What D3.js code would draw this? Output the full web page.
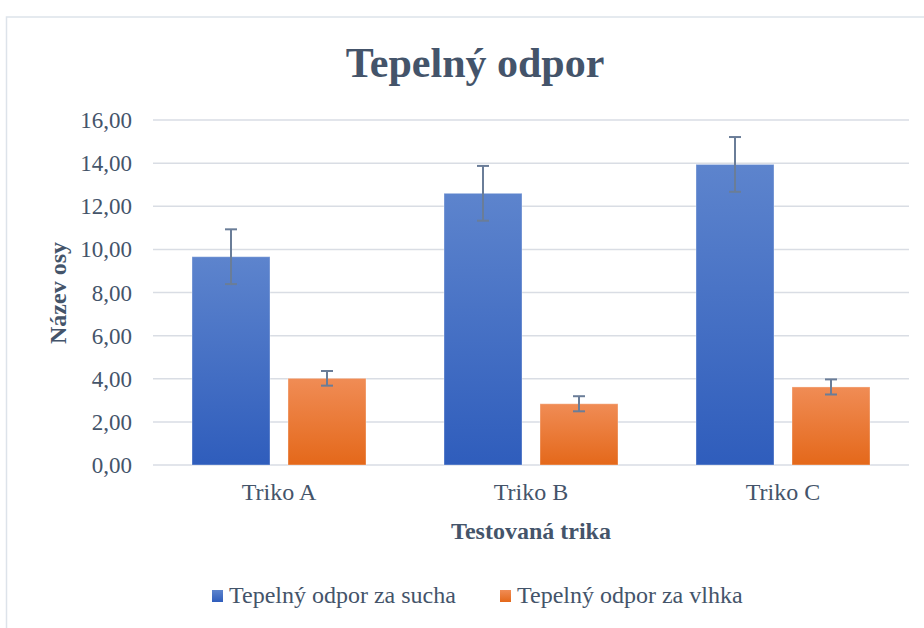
<!DOCTYPE html>
<html>
<head>
<meta charset="utf-8">
<script src="https://cdn.jsdelivr.net/npm/d3@7"></script>
<style>
  body { margin: 0; background: #fff; }
  svg { font-family: "Liberation Serif", "Times New Roman", serif; }
</style>
</head>
<body>
<svg></svg>
<script>
const size = {w: 924, h: 628};
const margin = {t: 120, r: 15, b: 163, l: 153};

// data
const categories = ['Triko A', 'Triko B', 'Triko C'];
const seriesNames = ['Tepelný odpor za sucha', 'Tepelný odpor za vlhka'];
const dryValues = [9.66, 12.60, 13.94];
const dryErrors = [1.27, 1.27, 1.27];
const wetValues = [4.02, 2.84, 3.62];
const wetErrors = [0.34, 0.35, 0.35];
const yTicks = [0, 2, 4, 6, 8, 10, 12, 14, 16];

const textColor = '#44546a';
const colors = [
    {top: '#5d84cd', bottom: '#2f5dbc'},
    {top: '#f08c55', bottom: '#e4681a'}
];

const svg = d3.select('svg')
    .attr('width', size.w)
    .attr('height', size.h);

// gradients for the bars
const defs = svg.append('defs');
colors.forEach((c, i) => {
    let g = defs.append('linearGradient')
        .attr('id', 'grad' + i)
        .attr('x1', 0).attr('y1', 0).attr('x2', 0).attr('y2', 1);
    g.append('stop').attr('offset', '0%').attr('stop-color', c.top);
    g.append('stop').attr('offset', '100%').attr('stop-color', c.bottom);
});

// chart border
svg.append('rect')
    .attr('x', 6.5).attr('y', 17)
    .attr('width', size.w + 20).attr('height', size.h)
    .attr('fill', 'none')
    .attr('stroke', '#dde3ea')
    .attr('stroke-width', 1.5);

const plotW = size.w - margin.l - margin.r;
const plotH = size.h - margin.t - margin.b;

const x = d3.scaleBand()
    .domain(categories)
    .range([margin.l, margin.l + plotW]);

const barW = 78;
const gap = 18;

const y = d3.scaleLinear()
    .domain([0, 16])
    .range([margin.t + plotH, margin.t]);

// gridlines
svg.append('g')
    .selectAll('line')
    .data(yTicks)
    .join('line')
    .attr('x1', margin.l)
    .attr('x2', margin.l + plotW)
    .attr('y1', d => y(d))
    .attr('y2', d => y(d))
    .attr('stroke', '#d9dde4')
    .attr('stroke-width', 1.5);

// y axis labels
const fmt = d => d3.format('.2f')(d).replace('.', ',');
svg.append('g')
    .selectAll('text')
    .data(yTicks)
    .join('text')
    .attr('x', 132)
    .attr('y', d => y(d))
    .attr('dy', '0.35em')
    .attr('text-anchor', 'end')
    .attr('font-size', 23)
    .attr('fill', textColor)
    .text(fmt);

// bars
const series = [
    {vals: dryValues, errs: dryErrors},
    {vals: wetValues, errs: wetErrors}
];

series.forEach((s, si) => {
    let barX = (d, i) => x(categories[i]) + (x.bandwidth() - 2 * barW - gap) / 2 + si * (barW + gap);
    let g = svg.append('g').classed('series' + si, true);

    g.selectAll('rect')
        .data(s.vals)
        .join('rect')
        .attr('x', barX)
        .attr('y', d => y(d))
        .attr('width', barW)
        .attr('height', d => y(0) - y(d))
        .attr('fill', `url(#grad${si})`)
        .attr('stroke', 'rgba(255,255,255,0.35)')
        .attr('stroke-width', 1);

    // error bars
    let eg = g.append('g');
    s.vals.forEach((v, i) => {
        let cx = barX(v, i) + barW / 2;
        let e = s.errs[i];
        eg.append('line')
            .attr('x1', cx).attr('x2', cx)
            .attr('y1', y(v + e)).attr('y2', y(v - e))
            .attr('stroke', '#6a7d98').attr('stroke-width', 2);
        [v + e, v - e].forEach(t => {
            eg.append('line')
                .attr('x1', cx - 6).attr('x2', cx + 6)
                .attr('y1', y(t)).attr('y2', y(t))
                .attr('stroke', '#6a7d98').attr('stroke-width', 2);
        });
    });
});

// x labels
svg.append('g')
    .selectAll('text')
    .data(categories)
    .join('text')
    .attr('x', d => x(d) + x.bandwidth() / 2)
    .attr('y', 500)
    .attr('text-anchor', 'middle')
    .attr('font-size', 24)
    .attr('fill', textColor)
    .text(d => d);

// title
svg.append('text')
    .attr('x', 475)
    .attr('y', 77)
    .attr('text-anchor', 'middle')
    .attr('font-size', 42)
    .attr('font-weight', 'bold')
    .attr('fill', textColor)
    .text('Tepelný odpor');

// axis titles
svg.append('text')
    .attr('x', 531)
    .attr('y', 539)
    .attr('text-anchor', 'middle')
    .attr('font-size', 24)
    .attr('font-weight', 'bold')
    .attr('fill', textColor)
    .text('Testovaná trika');

svg.append('text')
    .attr('transform', 'translate(66, 293) rotate(-90)')
    .attr('text-anchor', 'middle')
    .attr('font-size', 24)
    .attr('font-weight', 'bold')
    .attr('fill', textColor)
    .text('Název osy');

// legend
const legendX = [212, 500];
const legend = svg.append('g')
    .selectAll('g')
    .data(seriesNames)
    .join('g')
    .attr('transform', (d, i) => `translate(${legendX[i]}, 603)`);

legend.append('rect')
    .attr('x', 0).attr('y', -13)
    .attr('width', 11).attr('height', 12)
    .attr('fill', (d, i) => `url(#grad${i})`);

legend.append('text')
    .attr('x', 17)
    .attr('y', 0)
    .attr('font-size', 24)
    .attr('fill', textColor)
    .text(d => d);
</script>
</body>
</html>
